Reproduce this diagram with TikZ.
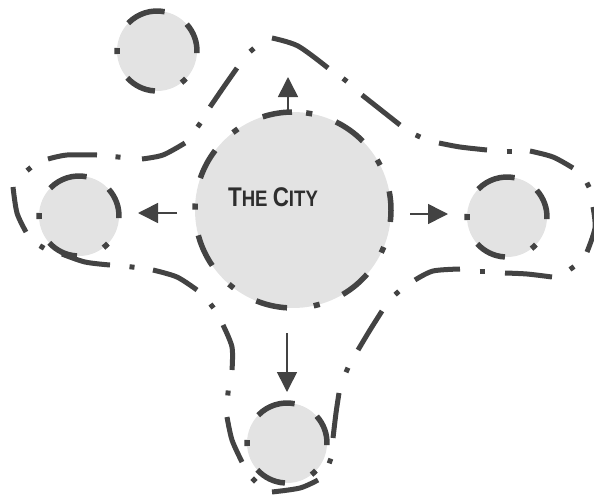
\documentclass[tikz,border=0pt]{standalone}
\usepackage{fontspec}
\setmainfont{Liberation Sans}
\usetikzlibrary{arrows.meta,calc}
\definecolor{ink}{HTML}{434343}
\definecolor{disccol}{HTML}{E3E3E3}
\definecolor{txt}{HTML}{2E2E2E}
\newcommand\tcBig{\fontsize{27}{30}\selectfont}
\newcommand\tcSmall{\fontsize{22.4}{26}\selectfont}
\begin{document}
\begin{tikzpicture}[x=1pt,y=-1pt,
  disc/.style={circle, fill=disccol, inner sep=0pt, draw=none},
  ring/.style={draw=ink, line width=5.5pt, line cap=butt},
  outer/.style={draw=ink, line width=5pt, line cap=butt},
  arr/.style={draw=ink, line width=1.6pt, -{Triangle[length=20pt,width=20pt]}}]
\useasboundingbox (0,0) rectangle (594,498);
% discs
\node[disc, minimum size=196pt] (city) at (293,210) {};
\node[disc, minimum size=80pt] (west) at (79,216) {};
\node[disc, minimum size=80pt] (east) at (507,217) {};
\node[disc, minimum size=80pt] (south) at (287,443) {};
\node[disc, minimum size=80pt] (nw) at (157,51) {};
% rings of the small circles
\foreach \c in {west,east,south,nw}{
  \foreach \s/\e in {-3/42, 79/136, -138/-93, 175.7/184.3, -52.3/-43.7}
    \draw[ring] (\c.center) ++(\s:40pt) arc[start angle=\s, end angle=\e, radius=40pt];
}
% ring of the city
\foreach \s/\e in {90.6/108, 44.6/64, -7/11, -59.5/-41, -112/-93.5, -165/-145.5, 142.6/161,
                   124.2/127.8, 78.7/82.3, 27.2/30.8, -25.8/-22.2, -77.8/-74.2, -130.8/-127.2, 176.2/179.8}
  \draw[ring] (city.center) ++(\s:98pt) arc[start angle=\s, end angle=\e, radius=98pt];
% outer boundary: dashes
\foreach \ax/\ay/\mx/\my/\bx/\by in {
  272/38/298/46/328/68, 362/95/381/110/400/125, 439/143/460/147/487/150,
  530/151/553/157/573/168, 593/207/595/228/587/252, 552/277/527/274/505/273,
  460/269/433/271/415/280, 382/311/370/330/358/350, 339/393/336/413/333/438,
  318/480/300/488/272/492, 242/462/232/440/227/417, 232/370/232/347/223/325,
  197/290/177/277/153/270, 110/265/85/262/62/254, 26/232/17/213/13/187,
  48/159/67/155/97/155, 142/159/163/155/185/143, 210/107/223/88/237/68}
  \draw[outer] plot[smooth] coordinates {(\ax,\ay) (\mx,\my) (\bx,\by)};
% outer boundary: dots
\foreach \x/\y/\r in {252/50/40, 345/80/-38, 418/136/-25, 509/151/0, 588/185/-63,
  572/268/35, 482/271/0, 397/293/43, 347/370/66, 330/461/70, 254/480/45, 228/393/-6,
  212/306/37, 132/267/-7, 42/247/59, 29/169/39, 118/157/-5, 199/125/55}
  \draw[outer] (\x,\y) ++(\r+180:2.5pt) -- ++(\r:5pt);
% arrows
\coordinate (upS) at (288,112);  \coordinate (upT) at (288,77);
\coordinate (lfS) at (177,213);  \coordinate (lfT) at (138,213);
\coordinate (rtS) at (410,214);  \coordinate (rtT) at (448,214);
\coordinate (dnS) at (287,333);  \coordinate (dnT) at (287,392);
\draw[arr] (upS) -- (upT);
\draw[arr] (lfS) -- (lfT);
\draw[arr] (rtS) -- (rtT);
\draw[arr] (dnS) -- (dnT);
% label
\node[text=txt, anchor=base, inner sep=0pt] (label) at (273,206)
  {\scalebox{0.83}[1]{\bfseries\tcBig T\tcSmall HE \tcBig C\tcSmall ITY}};
\end{tikzpicture}
\end{document}
